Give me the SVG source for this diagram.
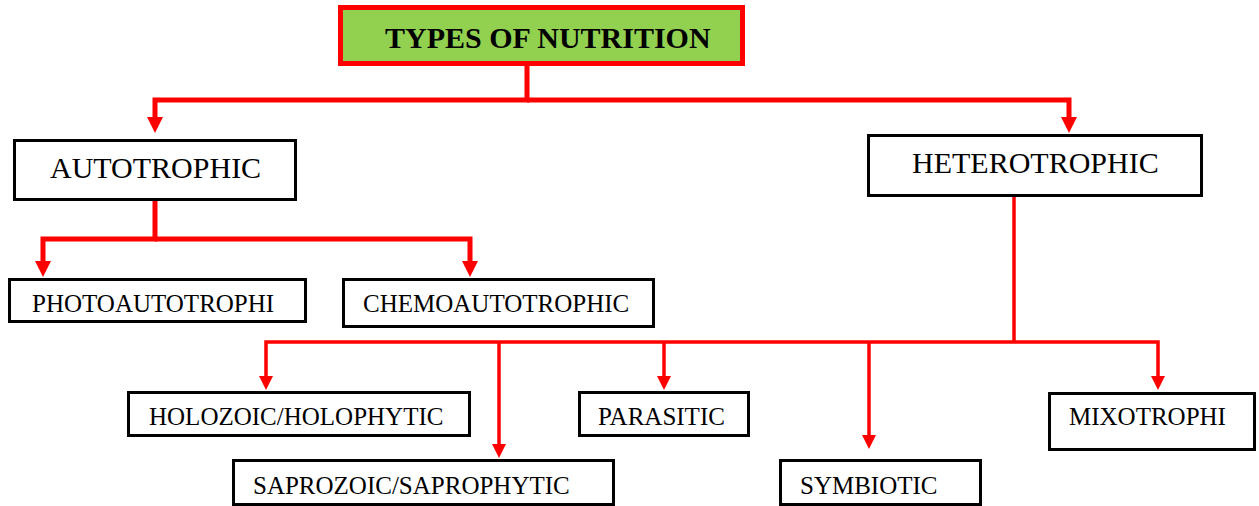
<svg xmlns="http://www.w3.org/2000/svg" width="1259" height="506" viewBox="0 0 1259 506">
  <style>
    .box { fill: #ffffff; stroke: #000000; stroke-width: 3; }
    .title-box { fill: #92D050; stroke: #FF0000; stroke-width: 5; }
    .lbl { font-family: "Liberation Serif", "Times New Roman", serif; fill: #000000; }
    .big { font-size: 30px; }
    .small { font-size: 25px; }
    .title { font-size: 30px; font-weight: bold; }
    .wire { fill: none; stroke: #FF0000; stroke-linejoin: miter; stroke-linecap: butt; }
    .thick { stroke-width: 5; }
    .thin { stroke-width: 3.5; }
  </style>
  <defs>
    <marker id="headBig" viewBox="0 0 16 16" refX="8" refY="8" markerWidth="16" markerHeight="16" markerUnits="userSpaceOnUse" orient="auto">
      <path d="M0,0 L16,8 L0,16 Z" fill="#FF0000"/>
    </marker>
    <marker id="headSmall" viewBox="0 0 14 14" refX="6" refY="7" markerWidth="14" markerHeight="14" markerUnits="userSpaceOnUse" orient="auto">
      <path d="M0,0 L14,7 L0,14 Z" fill="#FF0000"/>
    </marker>
  </defs>

  <!-- connectors -->
  <g id="connectors">
    <path class="wire thick" d="M527,66 V100 H155 V125" marker-end="url(#headBig)"/>
    <path class="wire thick" d="M527,100 H1069 V125" marker-end="url(#headBig)"/>
    <path class="wire thick" d="M155,201 V239 H43 V269" marker-end="url(#headBig)"/>
    <path class="wire thick" d="M155,239 H470 V269" marker-end="url(#headBig)"/>
    <path class="wire thin" d="M1014,197 V342"/>
    <path class="wire thin" d="M1014,342 H266 V382" marker-end="url(#headSmall)"/>
    <path class="wire thin" d="M499,342 V450" marker-end="url(#headSmall)"/>
    <path class="wire thin" d="M664,342 V382" marker-end="url(#headSmall)"/>
    <path class="wire thin" d="M869,342 V441" marker-end="url(#headSmall)"/>
    <path class="wire thin" d="M1014,342 H1158 V382" marker-end="url(#headSmall)"/>
  </g>

  <g id="types-of-nutrition">
    <rect class="title-box" x="340.5" y="7.5" width="402" height="56"/>
    <text class="lbl title" x="385" y="48">TYPES OF NUTRITION</text>
  </g>

  <g id="autotrophic">
    <rect class="box" x="14.5" y="140.5" width="281" height="59"/>
    <text class="lbl big" x="50" y="178">AUTOTROPHIC</text>
  </g>

  <g id="heterotrophic">
    <rect class="box" x="868.5" y="135.5" width="333" height="60"/>
    <text class="lbl big" x="912" y="173">HETEROTROPHIC</text>
  </g>

  <g id="photoautotrophi">
    <rect class="box" x="9.5" y="279.5" width="296" height="42"/>
    <text class="lbl small" x="32" y="312">PHOTOAUTOTROPHI</text>
  </g>

  <g id="chemoautotrophic">
    <rect class="box" x="343.5" y="279.5" width="310" height="47"/>
    <text class="lbl small" x="363" y="312">CHEMOAUTOTROPHIC</text>
  </g>

  <g id="holozoic">
    <rect class="box" x="128.5" y="392.5" width="341" height="43"/>
    <text class="lbl small" x="149" y="425">HOLOZOIC/HOLOPHYTIC</text>
  </g>

  <g id="saprozoic">
    <rect class="box" x="233.5" y="460.5" width="380" height="44"/>
    <text class="lbl small" x="253" y="494">SAPROZOIC/SAPROPHYTIC</text>
  </g>

  <g id="parasitic">
    <rect class="box" x="579.5" y="392.5" width="169" height="43"/>
    <text class="lbl small" x="598" y="425">PARASITIC</text>
  </g>

  <g id="symbiotic">
    <rect class="box" x="780.5" y="460.5" width="200" height="44"/>
    <text class="lbl small" x="800" y="494">SYMBIOTIC</text>
  </g>

  <g id="mixotrophi">
    <rect class="box" x="1049.5" y="393.5" width="205" height="56"/>
    <text class="lbl small" x="1069" y="425">MIXOTROPHI</text>
  </g>
</svg>
